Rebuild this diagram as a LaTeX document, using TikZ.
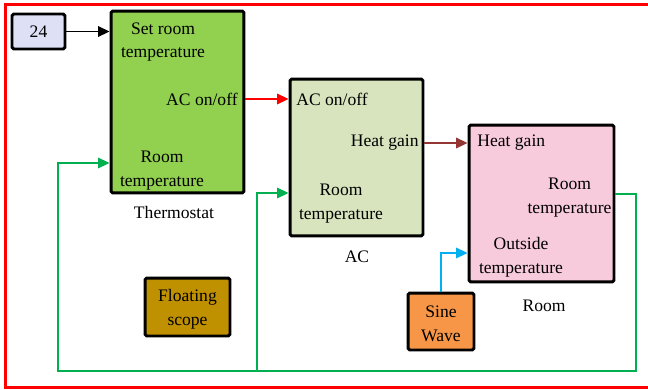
\documentclass[tikz,border=0pt]{standalone}
\usepackage{fontspec}
\setmainfont{Liberation Serif}
\usetikzlibrary{arrows.meta, positioning, calc}

\definecolor{thermogreen}{RGB}{146,208,80}
\definecolor{acgreen}{RGB}{215,228,189}
\definecolor{roompink}{RGB}{248,203,220}
\definecolor{scopegold}{RGB}{191,144,0}
\definecolor{sineorange}{RGB}{247,150,70}
\definecolor{constblue}{RGB}{222,224,245}
\definecolor{heatbrown}{RGB}{148,54,52}
\definecolor{fbgreen}{RGB}{0,176,80}
\definecolor{outcyan}{RGB}{0,176,240}

\begin{document}
\begin{tikzpicture}[>={Triangle[length=6.5pt,width=6pt]}, x=0.02cm, y=-0.02cm,
  every node/.style={font=\fontsize{10}{13.6}\selectfont},
  blk/.style={draw, line width=1.7pt, rounded corners=1pt, inner sep=0pt, align=center},
  port/.style={inner sep=0pt, align=center},
  wire/.style={->, line width=0.9pt}]
  \useasboundingbox (0,0) rectangle (648,389);
  \clip (0,0) rectangle (648,389);
  \draw[red, line width=1.9pt] (5.7,4.8) rectangle (680,387.3);

  % blocks
  \node[blk, fill=constblue, minimum width=1.06cm, minimum height=0.7cm] (k24) at (38.5,31.5) {24};
  \node[blk, fill=thermogreen, minimum width=2.66cm, minimum height=3.64cm] (thermo) at (177.5,102) {};
  \node[blk, fill=acgreen, minimum width=2.66cm, minimum height=3.14cm] (ac) at (356.5,157.5) {};
  \node[blk, fill=roompink, minimum width=2.9cm, minimum height=3.14cm] (room) at (541.5,203.5) {};
  \node[blk, fill=scopegold, minimum width=1.7cm, minimum height=1.16cm] (scope) at (187.5,307) {\strut Floating\\scope};
  \node[blk, fill=sineorange, minimum width=1.32cm, minimum height=1.14cm] (sine) at (441,321.5) {\strut Sine\\Wave};

  \node (thermocap) at (174,212) {Thermostat};
  \node (accap) at (357,257) {AC};
  \node (roomcap) at (544,306) {Room};

  % ports
  \node[port] (tset) at (163,42) {Set room\\temperature};
  \node[port, anchor=east] (tonoff) at (238,99) {AC on/off};
  \node[port] (troom) at (162,171) {Room\\temperature};
  \node[port, anchor=west] (aonoff) at (296,99) {AC on/off};
  \node[port, anchor=east] (aheat) at (419,143) {Heat gain};
  \node[port] (aroom) at (341,204) {Room\\temperature};
  \node[port, anchor=west] (rheat) at (477,143) {Heat gain};
  \node[port] (rroom) at (569.5,198) {Room\\temperature};
  \node[port] (rout) at (521,257) {Outside\\temperature};

  % signals
  \draw[wire] (k24) -- (k24 -| thermo.west);
  \draw[wire, red] (thermo.east |- tonoff) -- (ac.west |- aonoff);
  \draw[wire, heatbrown] (ac.east |- aheat) -- (room.west |- rheat);
  \coordinate (fbr) at (636,371);
  \coordinate (fbl) at (58,371);
  \coordinate (fbm) at (257,371);
  \draw[wire, fbgreen] ([yshift=0.08cm]room.east |- rroom) -| (fbr) -- (fbl) |- ([yshift=0.16cm]thermo.west |- troom);
  \draw[wire, fbgreen] (fbm) |- ([yshift=0.22cm]ac.west |- aroom);
  \draw[wire, outcyan] (sine.north) |- ([yshift=0.08cm]room.west |- rout);
\end{tikzpicture}
\end{document}
